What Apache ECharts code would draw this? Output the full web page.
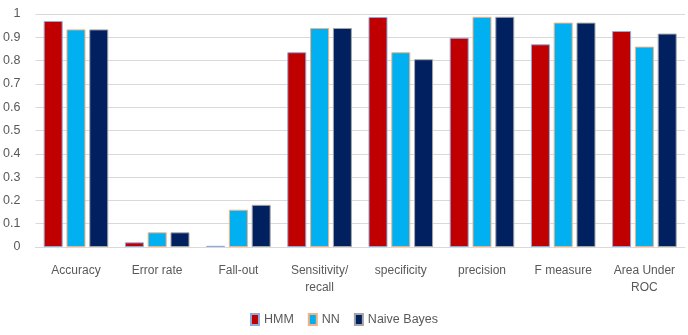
<!DOCTYPE html>
<html><head><meta charset="utf-8">
<script src="https://cdn.jsdelivr.net/npm/echarts@6/dist/echarts.min.js"></script>
<style>html,body{margin:0;padding:0;background:#fff}#c{width:688px;height:335px}</style>
</head><body><div id="c"></div>
<script>
const categories = ['Accuracy','Error rate','Fall-out','Sensitivity/\nrecall','specificity','precision','F measure','Area Under\nROC'];
const hmm = [0.970,0.020,0.005,0.836,0.987,0.898,0.870,0.927];
const nn = [0.934,0.063,0.160,0.940,0.836,0.988,0.963,0.860];
const naiveBayes = [0.934,0.063,0.181,0.940,0.806,0.988,0.963,0.916];
const seriesNames = ['HMM','NN','Naive Bayes'];
const yTicks = {min:0,max:1,interval:0.1};

const font = '"Liberation Sans",sans-serif';
const chart = echarts.init(document.getElementById('c'));
const mk = (name,data,color,border)=>({
  name,type:'bar',data,barWidth:19,barGap:'20%',
  itemStyle:{color,borderColor:border,borderWidth:1},
  emphasis:{disabled:true}
});
chart.setOption({
  animation:false,
  textStyle:{fontFamily:font},
  grid:{left:35,right:3,top:14,bottom:88,containLabel:false},
  legend:{bottom:4,left:'center',icon:'rect',itemWidth:8,itemHeight:11,itemGap:14,
    textStyle:{fontFamily:font,fontSize:12.5,color:'#595959'},
    data:seriesNames},
  xAxis:{type:'category',data:categories,
    axisLine:{lineStyle:{color:'#d9d9d9'}},axisTick:{show:false},
    axisLabel:{fontFamily:font,fontSize:12,color:'#595959',margin:15,interval:0,lineHeight:17}},
  yAxis:{type:'value',min:yTicks.min,max:yTicks.max,interval:yTicks.interval,
    axisLine:{show:false},axisTick:{show:false},
    splitLine:{lineStyle:{color:'#d9d9d9',width:1}},
    axisLabel:{fontFamily:font,fontSize:12.5,color:'#595959',margin:15,
      formatter:v=>String(Math.round(v*10)/10)}},
  series:[
    mk(seriesNames[0],hmm,'#C00000','#8FAADC'),
    mk(seriesNames[1],nn,'#00B0F0','#F4B183'),
    mk(seriesNames[2],naiveBayes,'#002060','#A5A5A5')
  ]
});
</script></body></html>
